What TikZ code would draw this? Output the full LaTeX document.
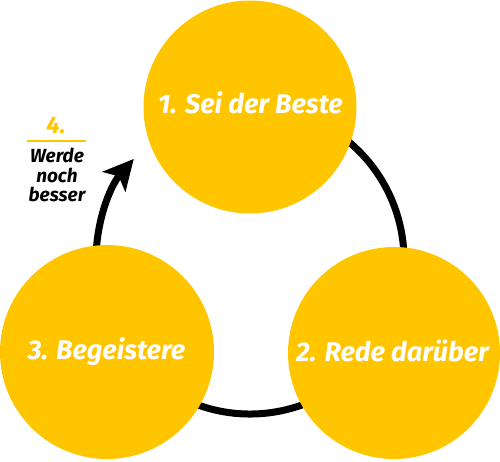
\documentclass[tikz,border=0pt]{standalone}
\usepackage{fontspec}
\setmainfont{Fira Sans}
\usetikzlibrary{arrows.meta}
\definecolor{gold}{HTML}{FFC600}
\begin{document}
\begin{tikzpicture}[x=1pt,y=-1pt,
  disc/.style={circle,fill=gold,inner sep=0pt,minimum size=#1},
  lbl/.style={font=\fontsize{27}{30}\selectfont\bfseries\itshape,text=white,anchor=base,inner sep=0pt},
  side/.style={font=\fontsize{19}{21}\selectfont\bfseries\itshape,anchor=base,inner sep=0pt},
  cycle line/.style={line width=7pt,-{Stealth[length=30pt,width=30pt,inset=7pt]}}]
\useasboundingbox (0,0) rectangle (500,462);
\coordinate (cyc) at (250,260);
\draw[cycle line] ([shift={(-60:154)}]cyc) arc[start angle=-60,end angle=221,radius=154];
\node[disc=213] (best) at (250,107) {};
\node[disc=214] (beg) at (107,352) {};
\node[disc=212] (rede) at (394,353) {};
\node[lbl] (t1) at (250.5,114) {1. Sei der Beste};
\node[lbl] (t2) at (392.5,361) {2. Rede darüber};
\node[lbl] (t3) at (106.5,359) {3. Begeistere};
\node[font=\fontsize{24}{26}\selectfont\bfseries\itshape,text=gold,anchor=base,inner sep=0pt] (t4) at (56,134) {4.};
\coordinate (ruleL) at (27,141);
\coordinate (ruleR) at (86,141);
\draw[gold,line width=2pt] (ruleL) -- (ruleR);
\node[side] (w1) at (57,163) {Werde};
\node[side] (w2) at (57,183) {noch};
\node[side] (w3) at (57,202) {besser};
\end{tikzpicture}
\end{document}
